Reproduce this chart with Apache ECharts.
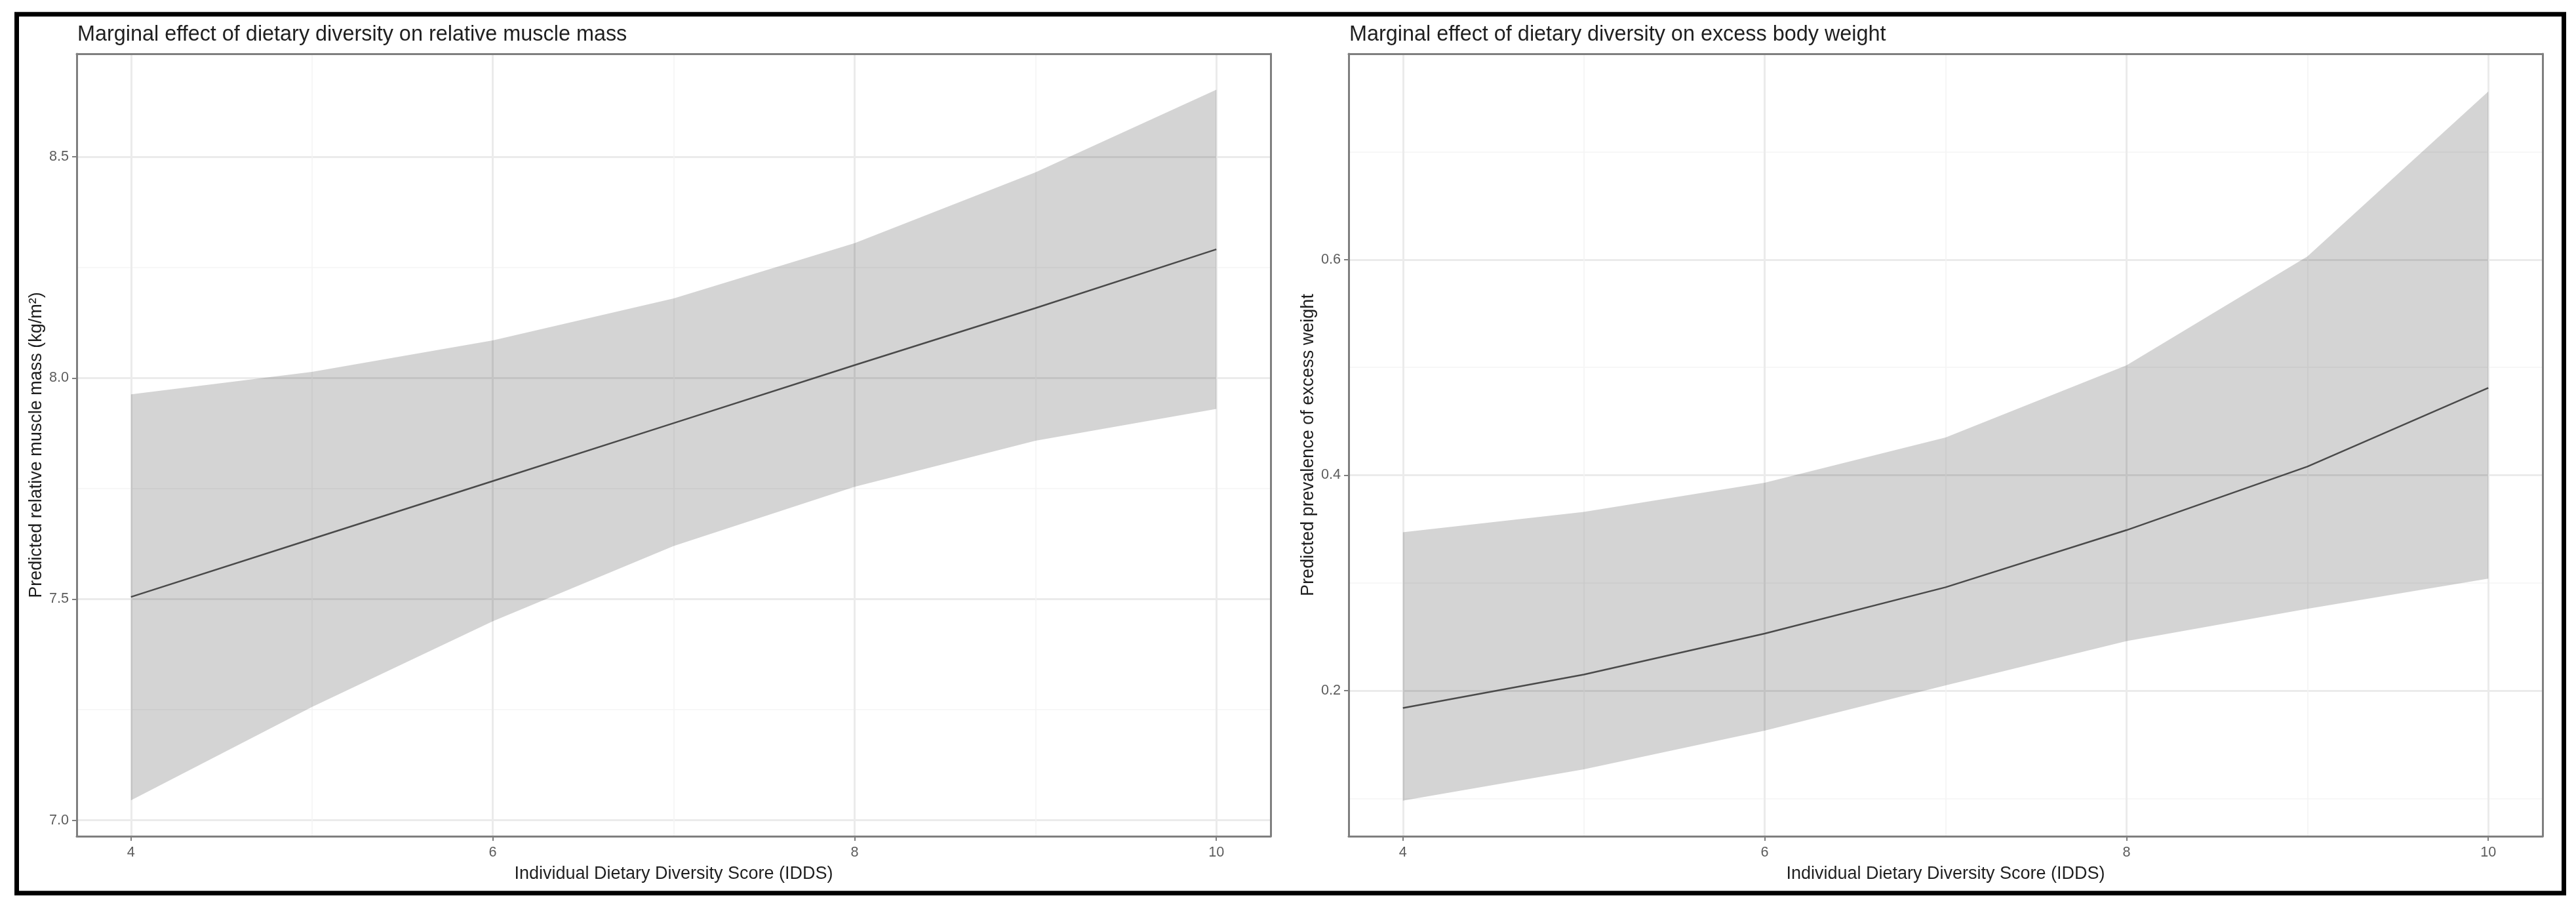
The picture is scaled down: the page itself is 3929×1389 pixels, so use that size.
<!DOCTYPE html>
<html>
<head>
<meta charset="utf-8">
<script src="https://cdn.jsdelivr.net/npm/echarts@6/dist/echarts.min.js"></script>
<style>
  html, body { margin: 0; padding: 0; background: #ffffff; }
  #chart { width: 3929px; height: 1389px; }
</style>
</head>
<body>
<div id="chart"></div>
<script>
// ---- Data ----
const idds = [4, 5, 6, 7, 8, 9, 10];

const musclePred = [7.505, 7.636, 7.767, 7.898, 8.029, 8.158, 8.291];
const muscleLow  = [7.045, 7.256, 7.450, 7.620, 7.754, 7.858, 7.930];
const muscleHigh = [7.963, 8.014, 8.085, 8.180, 8.305, 8.465, 8.652];

const weightPred = [0.184, 0.215, 0.253, 0.296, 0.349, 0.408, 0.481];
const weightLow  = [0.098, 0.127, 0.163, 0.205, 0.246, 0.276, 0.304];
const weightHigh = [0.347, 0.366, 0.393, 0.435, 0.502, 0.603, 0.756];

const xTicks = [4, 6, 8, 10];
const xMinorTicks = [5, 7, 9];
const muscleTicks = [7.0, 7.5, 8.0, 8.5];
const muscleMinorTicks = [7.25, 7.75, 8.25];
const weightTicks = [0.2, 0.4, 0.6];
const weightMinorTicks = [0.1, 0.3, 0.5, 0.7];

const titles = [
  'Marginal effect of dietary diversity on relative muscle mass',
  'Marginal effect of dietary diversity on excess body weight'
];
const xTitle = 'Individual Dietary Diversity Score (IDDS)';
const yTitles = ['Predicted relative muscle mass (kg/m\u00b2)', 'Predicted prevalence of excess weight'];

// ---- Styling ----
const FONT = '"Liberation Sans", Arial, Helvetica, sans-serif';
const BORDER = '#7f7f7f';
const MAJOR = '#ebebeb';
const MINOR = '#f4f4f4';
const TICKLAB = '#5c5c5c';
const TITLE = '#1f1f1f';

const grids = [
  { left: 117, top: 82, width: 1821, height: 1193 },
  { left: 2057, top: 82, width: 1821, height: 1193 }
];
const yRanges = [[6.964, 8.733], [0.065, 0.791]];
const yMajor = [muscleTicks, weightTicks];
const yMinor = [muscleMinorTicks, weightMinorTicks];

const xAxes = [], yAxes = [];
for (let g = 0; g < 2; g++) {
  xAxes.push({
    gridIndex: g, type: 'value', min: 3.7, max: 10.3, position: 'bottom',
    axisLine: { show: true, onZero: false, lineStyle: { color: BORDER, width: 3 } },
    axisTick: { show: true, length: 7, customValues: xTicks, lineStyle: { color: BORDER, width: 2 } },
    axisLabel: { customValues: xTicks, margin: 14, fontSize: 21.6, color: TICKLAB, fontFamily: FONT },
    splitLine: { show: true, lineStyle: { color: MAJOR, width: 3 } },
    name: xTitle, nameLocation: 'middle', nameGap: 44,
    nameTextStyle: { fontSize: 27, color: TITLE, fontFamily: FONT }
  });
  xAxes.push({
    gridIndex: g, type: 'value', min: 3.7, max: 10.3, position: 'top',
    axisLine: { show: true, onZero: false, lineStyle: { color: BORDER, width: 3 } },
    axisTick: { show: false, customValues: xMinorTicks },
    axisLabel: { show: false, customValues: xMinorTicks },
    splitLine: { show: true, lineStyle: { color: MINOR, width: 1.6 } }
  });
  yAxes.push({
    gridIndex: g, type: 'value', min: yRanges[g][0], max: yRanges[g][1], position: 'left',
    axisLine: { show: true, onZero: false, lineStyle: { color: BORDER, width: 3 } },
    axisTick: { show: true, length: 7, customValues: yMajor[g], lineStyle: { color: BORDER, width: 2 } },
    axisLabel: { customValues: yMajor[g], margin: 12, fontSize: 21.6, color: TICKLAB, fontFamily: FONT,
      formatter: v => Number(v).toFixed(1) },
    splitLine: { show: true, lineStyle: { color: MAJOR, width: 3 } },
    name: yTitles[g], nameLocation: 'middle', nameGap: 48,
    nameTextStyle: { fontSize: 27, color: TITLE, fontFamily: FONT }
  });
  yAxes.push({
    gridIndex: g, type: 'value', min: yRanges[g][0], max: yRanges[g][1], position: 'right',
    axisLine: { show: true, onZero: false, lineStyle: { color: BORDER, width: 3 } },
    axisTick: { show: false, customValues: yMinor[g] },
    axisLabel: { show: false, customValues: yMinor[g] },
    splitLine: { show: true, lineStyle: { color: MINOR, width: 1.6 } }
  });
}

// Confidence band: one polygon through all rows, positioned via the axes' scales
function renderBand(params, api) {
  if (params.dataIndexInside !== 0) return null;
  const n = params.dataInsideLength;
  const upper = [], lower = [];
  for (let i = 0; i < n; i++) {
    const x = api.value(0, i);
    upper.push(api.coord([x, api.value(2, i)]));
    lower.push(api.coord([x, api.value(1, i)]));
  }
  const pts = upper.concat(lower.reverse());
  return {
    type: 'polygon',
    shape: { points: pts },
    style: { fill: 'rgba(0,0,0,0.17)', stroke: null },
    silent: true
  };
}

function bandSeries(g, low, high, pred) {
  const xi = g * 2, yi = g * 2;
  return [
    {
      type: 'custom', xAxisIndex: xi, yAxisIndex: yi, silent: true,
      renderItem: renderBand,
      encode: { x: 0, y: [1, 2] },
      data: idds.map((x, i) => [x, low[i], high[i]]), z: 2
    },
    {
      type: 'line', xAxisIndex: xi, yAxisIndex: yi, symbol: 'none', silent: true,
      lineStyle: { color: '#4a4a4a', width: 2.5 },
      data: idds.map((x, i) => [x, pred[i]]), z: 3
    }
  ];
}

const chart = echarts.init(document.getElementById('chart'), null, { renderer: 'canvas' });
chart.setOption({
  backgroundColor: '#ffffff',
  animation: false,
  title: [
    { text: titles[0], left: 118, top: 37, padding: 0,
      textStyle: { fontSize: 32.4, fontWeight: 'normal', color: TITLE, fontFamily: FONT } },
    { text: titles[1], left: 2058, top: 37, padding: 0,
      textStyle: { fontSize: 32.4, fontWeight: 'normal', color: TITLE, fontFamily: FONT } }
  ],
  grid: grids,
  xAxis: xAxes,
  yAxis: yAxes,
  series: [
    ...bandSeries(0, muscleLow, muscleHigh, musclePred),
    ...bandSeries(1, weightLow, weightHigh, weightPred)
  ],
  graphic: [
    { type: 'rect', silent: true, z: 100,
      shape: { x: 25.5, y: 21.7, width: 3885, height: 1340 },
      style: { fill: 'none', stroke: '#000000', lineWidth: 7 } }
  ]
});
</script>
</body>
</html>
